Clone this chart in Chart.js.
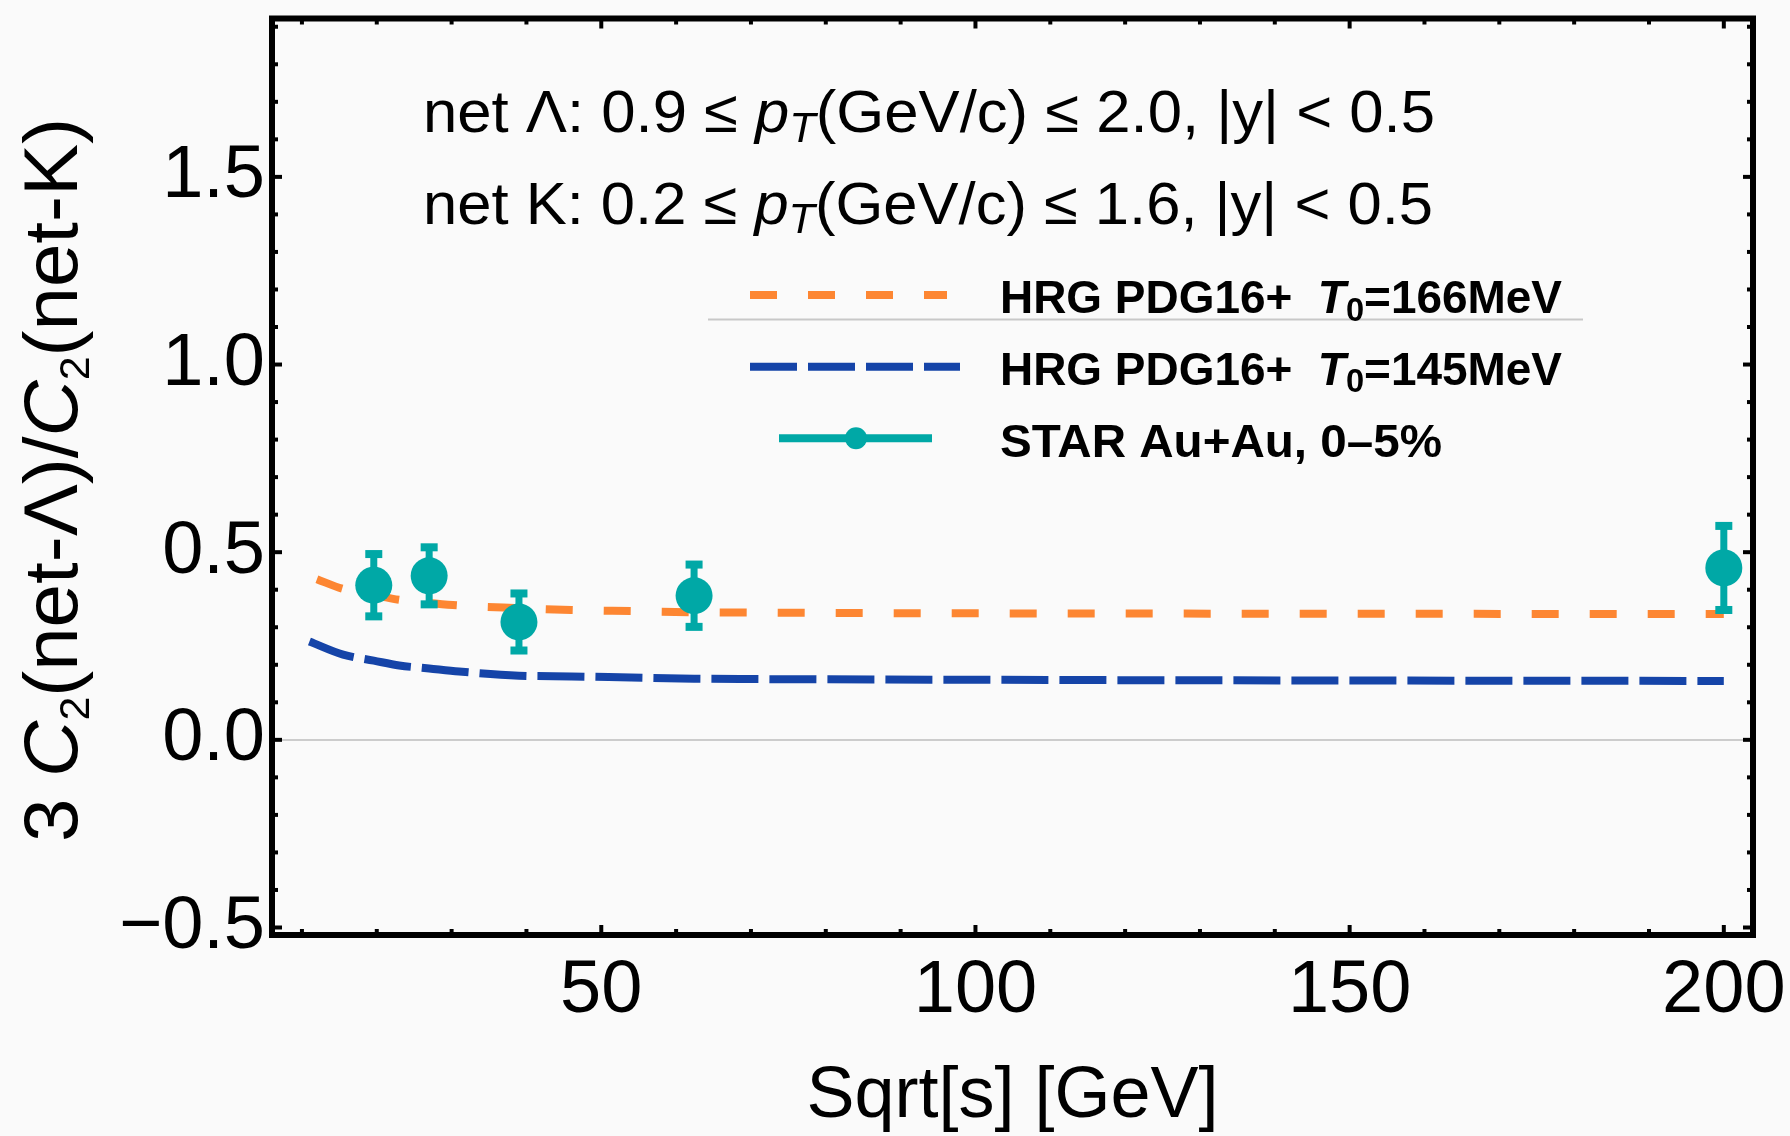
<!DOCTYPE html>
<html>
<head>
<meta charset="utf-8">
<title>net-Lambda / net-K ratio</title>
<script src="https://cdn.jsdelivr.net/npm/chart.js@4.4.0/dist/chart.umd.min.js"></script>
<style>
  html, body { margin: 0; padding: 0; background: #fafafa; }
  canvas { display: block; }
</style>
</head>
<body>
<canvas id="ratioChart" width="1790" height="1136"></canvas>
<script>
// STAR Au+Au 0-5% points
const starEnergy = [19.6, 27, 39, 62.4, 200];
const starRatio = [0.412, 0.437, 0.314, 0.384, 0.458];
const starError = [0.083, 0.076, 0.076, 0.083, 0.112];

// HRG PDG16+ curves
const hrg166Energy = [12, 15.5, 19.6, 23, 27, 31, 39, 46, 54, 62.4, 70, 100, 150, 200];
const hrg166Ratio = [0.428, 0.402, 0.386, 0.373, 0.365, 0.358, 0.351, 0.346, 0.343, 0.340, 0.339, 0.337, 0.336, 0.335];
const hrg145Energy = [11, 15.5, 19.6, 23, 27, 31, 39, 46, 54, 62.4, 70, 100, 150, 200];
const hrg145Ratio = [0.262, 0.227, 0.211, 0.198, 0.190, 0.182, 0.171, 0.169, 0.166, 0.163, 0.162, 0.160, 0.158, 0.157];

// axis ticks
const xTicks = [50, 100, 150, 200];
const yTicks = [-0.5, 0, 0.5, 1.0, 1.5];

const FONT = '"Liberation Sans", Arial, Helvetica, sans-serif';
const teal = '#00a8a6';
const orange = '#fd8632';
const blue = '#1544a8';

Chart.defaults.font.family = FONT;
Chart.defaults.color = '#000';

function pairs(xs, ys) {
  return xs.map((v, i) => ({ x: v, y: ys[i] }));
}

function line(ctx, x1, y1, x2, y2) {
  ctx.beginPath();
  ctx.moveTo(x1, y1);
  ctx.lineTo(x2, y2);
  ctx.stroke();
}

// text with italic / subscript pieces, squeezed or stretched to a width
function drawRich(ctx, segs, x, y, size, weight, width, subScale) {
  const fontOf = s => (s.it ? 'italic ' : '') + weight + ' ' + (s.sub ? size * subScale : size) + 'px ' + FONT;
  let total = 0;
  segs.forEach(s => { ctx.font = fontOf(s); s.w = ctx.measureText(s.t).width; total += s.w; });
  const k = width ? width / total : 1;
  ctx.save();
  ctx.translate(x, y);
  ctx.scale(k, 1);
  ctx.textBaseline = 'alphabetic';
  ctx.textAlign = 'left';
  let cx = 0;
  segs.forEach(s => {
    ctx.font = fontOf(s);
    ctx.fillText(s.t, cx, s.sub ? size * 0.16 : 0);
    cx += s.w;
  });
  ctx.restore();
}

// frame with inner ticks on all four sides
const framePlugin = {
  id: 'frame',
  afterDraw(chart) {
    const { ctx, chartArea: a, scales: { x, y } } = chart;
    ctx.save();
    ctx.strokeStyle = '#000';
    ctx.lineWidth = 4;
    for (let v = 10; v <= 200; v += 10) {
      const px = x.getPixelForValue(v);
      const len = xTicks.includes(v) ? 10 : 6;
      line(ctx, px, a.bottom, px, a.bottom - len);
      line(ctx, px, a.top, px, a.top + len);
    }
    for (let i = -5; i <= 19; i++) {
      const py = y.getPixelForValue(i / 10);
      const len = i % 5 === 0 ? 10 : 6;
      line(ctx, a.left, py, a.left + len, py);
      line(ctx, a.right, py, a.right - len, py);
    }
    ctx.lineWidth = 6;
    ctx.strokeRect(a.left, a.top, a.right - a.left, a.bottom - a.top);
    ctx.restore();
  }
};

// error bars under the STAR markers
const errorBarPlugin = {
  id: 'errorBars',
  beforeDatasetDraw(chart, args) {
    if (args.index !== 0) return;
    const { ctx, scales: { x, y } } = chart;
    ctx.save();
    ctx.fillStyle = teal;
    starEnergy.forEach((e, i) => {
      const px = x.getPixelForValue(e);
      const top = y.getPixelForValue(starRatio[i] + starError[i]);
      const bot = y.getPixelForValue(starRatio[i] - starError[i]);
      ctx.fillRect(px - 3.5, top, 7, bot - top);
      ctx.fillRect(px - 8.5, top - 4, 17, 8);
      ctx.fillRect(px - 8.5, bot - 4, 17, 8);
    });
    ctx.restore();
  }
};

// cut labels, legend and the rotated y title
const labelPlugin = {
  id: 'labels',
  afterDraw(chart) {
    const { ctx } = chart;
    const ds = chart.data.datasets;
    ctx.save();
    ctx.fillStyle = '#000';

    drawRich(ctx, [{ t: 'net \u039b: 0.9 \u2264 ' }, { t: 'p', it: 1 }, { t: 'T', it: 1, sub: 1 },
      { t: '(GeV/c) \u2264 2.0, |y| < 0.5' }], 423, 132, 60, 'normal', 1012, 0.7);
    drawRich(ctx, [{ t: 'net K: 0.2 \u2264 ' }, { t: 'p', it: 1 }, { t: 'T', it: 1, sub: 1 },
      { t: '(GeV/c) \u2264 1.6, |y| < 0.5' }], 423, 223.5, 60, 'normal', 1010, 0.7);

    // legend
    ctx.strokeStyle = '#c8c8c8';
    ctx.lineWidth = 2;
    line(ctx, 708, 319.5, 1583, 319.5);

    ctx.lineCap = 'butt';
    ctx.lineWidth = ds[1].borderWidth;
    ctx.strokeStyle = ds[1].borderColor;
    ctx.setLineDash(ds[1].borderDash);
    line(ctx, 750, 295, 947, 295);
    ctx.lineWidth = ds[2].borderWidth;
    ctx.strokeStyle = ds[2].borderColor;
    ctx.setLineDash(ds[2].borderDash);
    line(ctx, 750, 366.7, 960, 366.7);
    ctx.setLineDash([]);
    ctx.strokeStyle = teal;
    ctx.lineWidth = 8;
    line(ctx, 779, 438.3, 932, 438.3);
    ctx.fillStyle = teal;
    ctx.beginPath();
    ctx.arc(856, 438.3, 11, 0, Math.PI * 2);
    ctx.fill();

    ctx.fillStyle = '#000';
    drawRich(ctx, [{ t: ds[1].label }, { t: 'T', it: 1 }, { t: '0', sub: 1 }, { t: '=166MeV' }],
      1000, 313.3, 46, 'bold', 562, 0.71);
    drawRich(ctx, [{ t: ds[2].label }, { t: 'T', it: 1 }, { t: '0', sub: 1 }, { t: '=145MeV' }],
      1000, 385, 46, 'bold', 562, 0.71);
    drawRich(ctx, [{ t: ds[0].label }], 1000, 456.7, 46, 'bold', 442, 0.71);

    // y axis title
    ctx.save();
    ctx.translate(76.7, 842);
    ctx.rotate(-Math.PI / 2);
    drawRich(ctx, [{ t: '3 ' }, { t: 'C', it: 1 }, { t: '2', sub: 1 }, { t: '(net-\u039b)/' },
      { t: 'C', it: 1 }, { t: '2', sub: 1 }, { t: '(net-K)' }], 0, 0, 76, 'normal', 724, 0.55);
    ctx.restore();

    ctx.restore();
  }
};

new Chart(document.getElementById('ratioChart'), {
  type: 'line',
  data: {
    datasets: [
      {
        label: 'STAR Au+Au, 0\u20135%',
        data: pairs(starEnergy, starRatio),
        showLine: false,
        pointRadius: 18.5,
        pointBackgroundColor: teal,
        pointBorderWidth: 0,
        order: 0
      },
      {
        label: 'HRG PDG16+  ',
        data: pairs(hrg166Energy, hrg166Ratio),
        borderColor: orange,
        borderWidth: 8,
        borderDash: [27, 31],
        pointRadius: 0,
        cubicInterpolationMode: 'monotone',
        fill: false,
        order: 1
      },
      {
        label: 'HRG PDG16+  ',
        data: pairs(hrg145Energy, hrg145Ratio),
        borderColor: blue,
        borderWidth: 8,
        borderDash: [47, 11],
        pointRadius: 0,
        cubicInterpolationMode: 'monotone',
        fill: false,
        order: 2
      }
    ]
  },
  options: {
    responsive: false,
    devicePixelRatio: 1,
    animation: false,
    layout: { padding: { top: 18.5, right: 37, bottom: 0, left: 0 } },
    plugins: { legend: { display: false }, tooltip: { enabled: false } },
    scales: {
      x: {
        type: 'linear',
        min: 6,
        max: 203.9,
        afterBuildTicks: s => { s.ticks = xTicks.map(v => ({ value: v })); },
        afterFit: s => { s.height = 201; s.paddingLeft = 0; s.paddingRight = 0; },
        ticks: { font: { size: 74, lineHeight: 1 }, padding: 20, maxRotation: 0, color: '#000' },
        grid: { display: false, drawTicks: false },
        border: { display: false },
        title: {
          display: true,
          text: 'Sqrt[s] [GeV]',
          font: { size: 72, lineHeight: 1 },
          padding: { top: 0, bottom: 3 },
          color: '#000'
        }
      },
      y: {
        min: -0.52,
        max: 1.922,
        afterBuildTicks: s => { s.ticks = yTicks.map(v => ({ value: v })); },
        afterFit: s => { s.width = 272; s.paddingTop = 0; s.paddingBottom = 0; },
        ticks: {
          font: { size: 74, lineHeight: 1 },
          padding: 7,
          color: '#000',
          callback: v => (v < 0 ? '\u2212' : '') + Math.abs(v).toFixed(1)
        },
        grid: {
          drawTicks: false,
          lineWidth: 2,
          color: c => (c.tick && c.tick.value === 0 ? '#cccccc' : 'rgba(0,0,0,0)')
        },
        border: { display: false }
      }
    }
  },
  plugins: [errorBarPlugin, framePlugin, labelPlugin]
});
</script>
</body>
</html>
